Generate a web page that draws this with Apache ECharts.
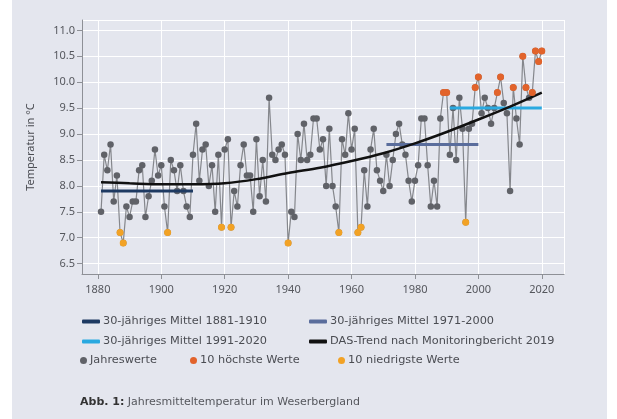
<!DOCTYPE html>
<html>
<head>
<meta charset="utf-8">
<script src="https://cdn.jsdelivr.net/npm/echarts@6/dist/echarts.min.js"></script>
<style>
  html, body { margin: 0; background: #fff; }
  #main { width: 617px; height: 419px; }
</style>
</head>
<body>
<div id="main"></div>
<script>
// Jahresmittel 1881-2020
const firstYear = 1881
const temps = [
  7.5, 8.6, 8.3, 8.8, 7.7, 8.2, 7.1, 6.9, 7.6, 7.4,
  7.7, 7.7, 8.3, 8.4, 7.4, 7.8, 8.1, 8.7, 8.2, 8.4,
  7.6, 7.1, 8.5, 8.3, 7.9, 8.4, 7.9, 7.6, 7.4, 8.6,
  9.2, 8.1, 8.7, 8.8, 8.0, 8.4, 7.5, 8.6, 7.2, 8.7,
  8.9, 7.2, 7.9, 7.6, 8.4, 8.8, 8.2, 8.2, 7.5, 8.9,
  7.8, 8.5, 7.7, 9.7, 8.6, 8.5, 8.7, 8.8, 8.6, 6.9,
  7.5, 7.4, 9.0, 8.5, 9.2, 8.5, 8.6, 9.3, 9.3, 8.7,
  8.9, 8.0, 9.1, 8.0, 7.6, 7.1, 8.9, 8.6, 9.4, 8.7,
  9.1, 7.1, 7.2, 8.3, 7.6, 8.7, 9.1, 8.3, 8.1, 7.9,
  8.6, 8.0, 8.5, 9.0, 9.2, 8.8, 8.6, 8.1, 7.7, 8.1,
  8.4, 9.3, 9.3, 8.4, 7.6, 8.1, 7.6, 9.3, 9.8, 9.8,
  8.6, 9.5, 8.5, 9.7, 9.1, 7.3, 9.1, 9.2, 9.9, 10.1,
  9.4, 9.7, 9.5, 9.2, 9.5, 9.8, 10.1, 9.6, 9.4, 7.9,
  9.9, 9.3, 8.8, 10.5, 9.9, 9.7, 9.8, 10.6, 10.4, 10.6
]
const hotYears = [1989, 1990, 1999, 2000, 2006, 2007, 2011, 2014, 2015, 2017, 2018, 2019, 2020]
const coldYears = [1887, 1888, 1902, 1919, 1922, 1940, 1956, 1962, 1963, 1996]

// 30-jährige Mittel [von, bis, wert]
const mean1881 = [1881, 1910, 7.9]
const mean1971 = [1971, 2000, 8.8]
const mean1991 = [1991, 2020, 9.5]

const trendYears = [1881, 1890, 1900, 1910, 1920, 1930, 1940, 1950, 1960, 1970, 1980, 1990, 2000, 2010, 2020]
const trendValues = [8.07, 8.05, 8.03, 8.03, 8.05, 8.13, 8.25, 8.35, 8.48, 8.63, 8.82, 9.04, 9.28, 9.53, 9.8]

const names = {
  m1: '30-jähriges Mittel 1881-1910',
  m2: '30-jähriges Mittel 1971-2000',
  m3: '30-jähriges Mittel 1991-2020',
  trend: 'DAS-Trend nach Monitoringbericht 2019',
  all: 'Jahreswerte',
  hot: '10 höchste Werte',
  cold: '10 niedrigste Werte'
}

const font = 'Noto Sans'
const wideFont = 'DejaVu Sans'
const yearly = temps.map((v, i) => [firstYear + i, v])
const pick = ys => ys.map(y => [y, temps[y - firstYear]])
const meanLine = m => [[m[0], m[2]], [m[1], m[2]]]

function legendAt(name, left, top, icon, w, h) {
  return {
    data: [{ name: name, icon: icon }],
    left: left, top: top, padding: 0,
    itemWidth: w, itemHeight: h,
    textStyle: { fontFamily: wideFont, fontSize: 11.3, color: '#4a4c52', padding: [0, 0, 0, -2] },
    selectedMode: false
  }
}

let myChart = echarts.init(document.getElementById('main'))
myChart.setOption({
  backgroundColor: '#fff',
  animation: false,
  graphic: [{
    type: 'rect', z: -10,
    shape: { x: 12, y: 0, width: 595, height: 419 },
    style: { fill: '#e4e6ee' }
  }],
  title: {
    text: '{b|Abb. 1:} Jahresmitteltemperatur im Weserbergland',
    left: 80, top: 397, padding: 0,
    textStyle: {
      fontFamily: wideFont, fontSize: 11, fontWeight: 'normal', color: '#55575d',
      rich: { b: { fontFamily: wideFont, fontSize: 11, fontWeight: 'bold', color: '#333' } }
    }
  },
  legend: [
    legendAt(names.m1, 82, 316, 'roundRect', 18, 4),
    legendAt(names.m2, 309, 316, 'roundRect', 18, 4),
    legendAt(names.m3, 82, 336, 'roundRect', 18, 4),
    legendAt(names.trend, 309, 336, 'roundRect', 18, 4),
    legendAt(names.all, 80, 355, 'circle', 7, 7),
    legendAt(names.hot, 190, 355, 'circle', 7, 7),
    legendAt(names.cold, 338, 355, 'circle', 7, 7)
  ],
  grid: { left: 82, right: 53, top: 20, bottom: 145 },
  xAxis: {
    type: 'value', min: 1875, max: 2027, splitNumber: 8,
    axisLine: { lineStyle: { color: '#8e9096' } },
    axisTick: { length: 5, lineStyle: { color: '#8e9096' } },
    axisLabel: { showMinLabel: false, showMaxLabel: false, margin: 10,
      fontFamily: font, fontSize: 11, color: '#55575d',
      formatter: v => String(v) },
    splitLine: { show: true, lineStyle: { color: '#ffffff', width: 1 } }
  },
  yAxis: {
    type: 'value', min: 6.3, max: 11.2, splitNumber: 10,
    name: 'Temperatur in °C', nameLocation: 'middle', nameGap: 46,
    nameTextStyle: { fontFamily: font, fontSize: 11, color: '#4a4c52' },
    axisLine: { show: true, lineStyle: { color: '#8e9096' } },
    axisTick: { show: true, length: 5, lineStyle: { color: '#8e9096' } },
    axisLabel: { showMinLabel: false, showMaxLabel: false, margin: 7,
      fontFamily: font, fontSize: 11, color: '#55575d',
      formatter: v => v.toFixed(1) },
    splitLine: { lineStyle: { color: '#ffffff', width: 1 } }
  },
  series: [
    {
      name: names.all, type: 'line', data: yearly,
      symbol: 'circle', symbolSize: 6.5,
      lineStyle: { color: '#85878c', width: 1.2 },
      itemStyle: { color: '#606268' },
      z: 2
    },
    {
      name: names.m1, type: 'line', data: meanLine(mean1881), symbol: 'none',
      lineStyle: { color: '#1e3a62', width: 3 }, itemStyle: { color: '#1e3a62' }, z: 3
    },
    {
      name: names.m2, type: 'line', data: meanLine(mean1971), symbol: 'none',
      lineStyle: { color: '#5a6d9c', width: 3 }, itemStyle: { color: '#5a6d9c' }, z: 3
    },
    {
      name: names.m3, type: 'line', data: meanLine(mean1991), symbol: 'none',
      lineStyle: { color: '#2aa9e0', width: 3 }, itemStyle: { color: '#2aa9e0' }, z: 3
    },
    {
      name: names.trend, type: 'line', symbol: 'none', smooth: 0.3,
      data: trendYears.map((y, i) => [y, trendValues[i]]),
      lineStyle: { color: '#111111', width: 2.5 }, itemStyle: { color: '#111111' }, z: 4
    },
    {
      name: names.hot, type: 'scatter', data: pick(hotYears), symbolSize: 7,
      itemStyle: { color: '#e2632b', opacity: 1 }, z: 5
    },
    {
      name: names.cold, type: 'scatter', data: pick(coldYears), symbolSize: 7,
      itemStyle: { color: '#f2a225', opacity: 1 }, z: 5
    }
  ]
})
</script>
</body>
</html>
